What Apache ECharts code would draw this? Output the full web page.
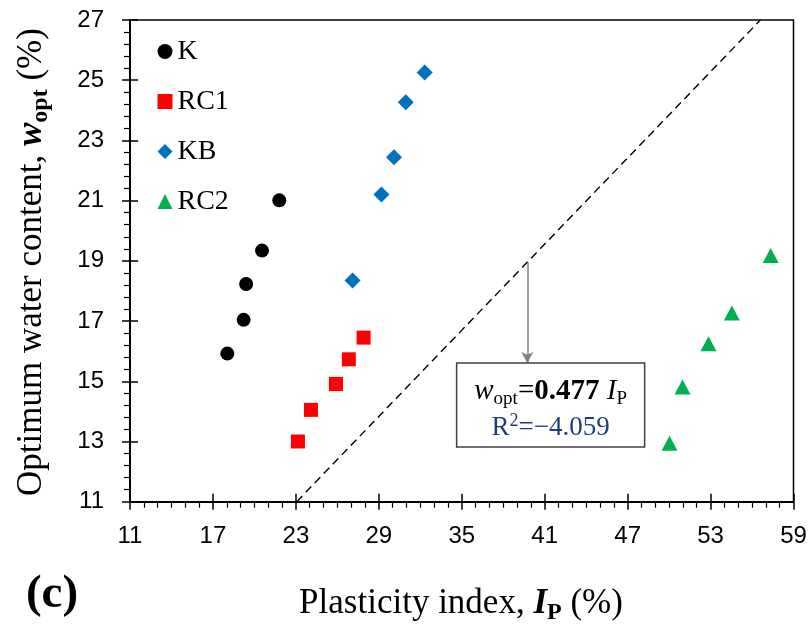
<!DOCTYPE html>
<html><head><meta charset="utf-8">
<script src="https://cdn.jsdelivr.net/npm/echarts@6/dist/echarts.min.js"></script>
<style>html,body{margin:0;padding:0;background:#fff}#c{width:811px;height:635px}</style>
</head><body><div id="c"></div>
<script>
// ---- data ----
const xTicks = [11, 17, 23, 29, 35, 41, 47, 53, 59];
const yTicks = [11, 13, 15, 17, 19, 21, 23, 25, 27];
const seriesNames = ['K', 'RC1', 'KB', 'RC2'];
const kData   = [[18.04, 15.92], [19.22, 17.04], [19.40, 18.23], [20.55, 19.34], [21.80, 21.01]];
const rc1Data = [[23.15, 13.00], [24.09, 14.05], [25.90, 14.91], [26.83, 15.73], [27.90, 16.45]];
const kbData  = [[27.10, 18.35], [29.19, 21.20], [30.10, 22.44], [30.95, 24.27], [32.32, 25.26]];
const rc2Data = [[50.03, 12.94], [50.97, 14.81], [52.85, 16.25], [54.54, 17.27], [57.35, 19.18]];
const slope = 0.477;
const r2Text = '\u22124.059';
const arrowX = 39.74;
const boxCorners = [[34.63, 15.61], [48.23, 12.82]];

// ---- chart ----
const serif = "'Liberation Serif','Times New Roman',serif";
const sans = "'Liberation Sans',Arial,sans-serif";
const xMin = xTicks[0], xMax = xTicks[xTicks.length - 1], xInt = xTicks[1] - xTicks[0];
const yMin = yTicks[0], yMax = yTicks[yTicks.length - 1], yInt = yTicks[1] - yTicks[0];
const fitData = [[yMin / slope, yMin], [yMax / slope, yMax]];

const chart = echarts.init(document.getElementById('c'), null, {renderer: 'canvas'});

const axLine = {show: true, onZero: false, lineStyle: {color: '#000', width: 2}};
const option = {
  animation: false,
  backgroundColor: '#fff',
  grid: {left: 130, right: 17.5, top: 20, bottom: 133.3, show: true, borderColor: '#000', borderWidth: 1.5, backgroundColor: 'transparent'},
  legend: {
    orient: 'vertical', left: 152.5, top: 30.5, itemWidth: 15, itemHeight: 15, itemGap: 18,
    textStyle: {fontFamily: serif, fontSize: 28, color: '#000', lineHeight: 32},
    selectedMode: false,
    data: [{name: 'K', icon: 'circle'}, {name: 'RC1', icon: 'rect'}, {name: 'KB', icon: 'diamond'}, {name: 'RC2', icon: 'triangle'}]
  },
  xAxis: [{
    type: 'value', min: xMin, max: xMax, interval: xInt, position: 'bottom',
    axisLine: axLine,
    axisTick: {show: true, length: 8, lineStyle: {color: '#000', width: 1.5}},
    minorTick: {show: true, splitNumber: 6, length: 6, lineStyle: {color: '#000', width: 1.2}},
    splitLine: {show: false},
    axisLabel: {fontFamily: sans, fontSize: 24, color: '#000', margin: 23}
  }, {
    type: 'value', min: xMin, max: xMax, interval: xInt, position: 'bottom',
    axisLine: {show: false},
    axisTick: {show: true, inside: true, length: 8, lineStyle: {color: '#000', width: 1.5}},
    splitLine: {show: false}, axisLabel: {show: false}
  }],
  yAxis: [{
    type: 'value', min: yMin, max: yMax, interval: yInt, position: 'left',
    axisLine: axLine,
    axisTick: {show: true, length: 8, lineStyle: {color: '#000', width: 1.5}},
    minorTick: {show: true, splitNumber: 5, length: 6, lineStyle: {color: '#000', width: 1.2}},
    splitLine: {show: false},
    axisLabel: {fontFamily: sans, fontSize: 24, color: '#000', margin: 26}
  }, {
    type: 'value', min: yMin, max: yMax, interval: yInt, position: 'left',
    axisLine: {show: false},
    axisTick: {show: true, inside: true, length: 8, lineStyle: {color: '#000', width: 1.5}},
    splitLine: {show: false}, axisLabel: {show: false}
  }],
  series: [
    {name: 'fit', type: 'line', data: fitData, showSymbol: false, symbol: 'none', silent: true,
     lineStyle: {color: '#000', width: 1.4, type: [8, 5]},
     markLine: {silent: true, symbol: ['none', 'arrow'], symbolSize: [9, 11], label: {show: false},
       lineStyle: {color: '#808080', width: 1.5, type: 'solid'},
       data: [[{coord: [arrowX, slope * arrowX]}, {coord: [arrowX, boxCorners[0][1]]}]]}},
    {name: 'K', type: 'scatter', data: kData, symbol: 'circle', symbolSize: 14, itemStyle: {color: '#000', opacity: 1}},
    {name: 'RC1', type: 'scatter', data: rc1Data, symbol: 'rect', symbolSize: 14, itemStyle: {color: '#FF0000', opacity: 1}},
    {name: 'KB', type: 'scatter', data: kbData, symbol: 'diamond', symbolSize: 16, itemStyle: {color: '#0070C0', opacity: 1}},
    {name: 'RC2', type: 'scatter', data: rc2Data, symbol: 'triangle', symbolSize: [16, 15], itemStyle: {color: '#00B050', opacity: 1}}
  ]
};
chart.setOption(option);

const p1 = chart.convertToPixel({xAxisIndex: 0, yAxisIndex: 0}, boxCorners[0]);
const p2 = chart.convertToPixel({xAxisIndex: 0, yAxisIndex: 0}, boxCorners[1]);
const bx = p1[0], by = p1[1], bw = p2[0] - p1[0], bh = p2[1] - p1[1];
const cx = bx + bw / 2;

function titleRich(size, subSize) {
  return {
    n: {fontFamily: serif, fontSize: size, lineHeight: size + 6, fill: '#000'},
    bi: {fontFamily: serif, fontSize: size, fontWeight: 'bold', fontStyle: 'italic', lineHeight: size + 6, fill: '#000'},
    bs: {fontFamily: serif, fontSize: subSize, fontWeight: 'bold', lineHeight: subSize, verticalAlign: 'bottom', fill: '#000'}
  };
}

chart.setOption({
  graphic: [
    {type: 'rect', shape: {x: bx, y: by, width: bw, height: bh}, z: 50,
     style: {fill: '#fff', stroke: '#404040', lineWidth: 1.5}},
    {type: 'text', x: cx, y: by + bh * 0.34, z: 51,
     style: {text: '{i|w}{s|opt}{n|=}{b|0.477}{n| }{i|I}{s|P}', align: 'center', verticalAlign: 'middle',
       rich: {
         i: {fontFamily: serif, fontSize: 29, fontStyle: 'italic', lineHeight: 34, fill: '#000'},
         n: {fontFamily: serif, fontSize: 29, lineHeight: 34, fill: '#000'},
         b: {fontFamily: serif, fontSize: 29, fontWeight: 'bold', lineHeight: 34, fill: '#000'},
         s: {fontFamily: serif, fontSize: 19, lineHeight: 19, verticalAlign: 'bottom', fill: '#000'}
       }}},
    {type: 'text', x: cx, y: by + bh * 0.77, z: 51,
     style: {text: '{r|R}{p|2}{r|=' + r2Text + '}', align: 'center', verticalAlign: 'middle',
       rich: {
         r: {fontFamily: serif, fontSize: 27, lineHeight: 30, fill: '#1F3D7C'},
         p: {fontFamily: serif, fontSize: 18, lineHeight: 22, verticalAlign: 'top', fill: '#1F3D7C'}
       }}},
    {type: 'text', x: 32, y: 262, rotation: Math.PI / 2,
     style: {text: '{n|Optimum water content, }{bi|w}{bs|opt}{n| (%)}', align: 'center', verticalAlign: 'middle',
       rich: titleRich(35, 24)}},
    {type: 'text', x: 461, y: 604,
     style: {text: '{n|Plasticity index, }{bi|I}{bs|P}{n| (%)}', align: 'center', verticalAlign: 'middle',
       rich: titleRich(35, 24)}},
    {type: 'text', x: 52, y: 595,
     style: {text: '(c)', align: 'center', verticalAlign: 'middle', fontFamily: serif, fontSize: 47, fontWeight: 'bold', fill: '#000'}}
  ]
});
</script></body></html>
